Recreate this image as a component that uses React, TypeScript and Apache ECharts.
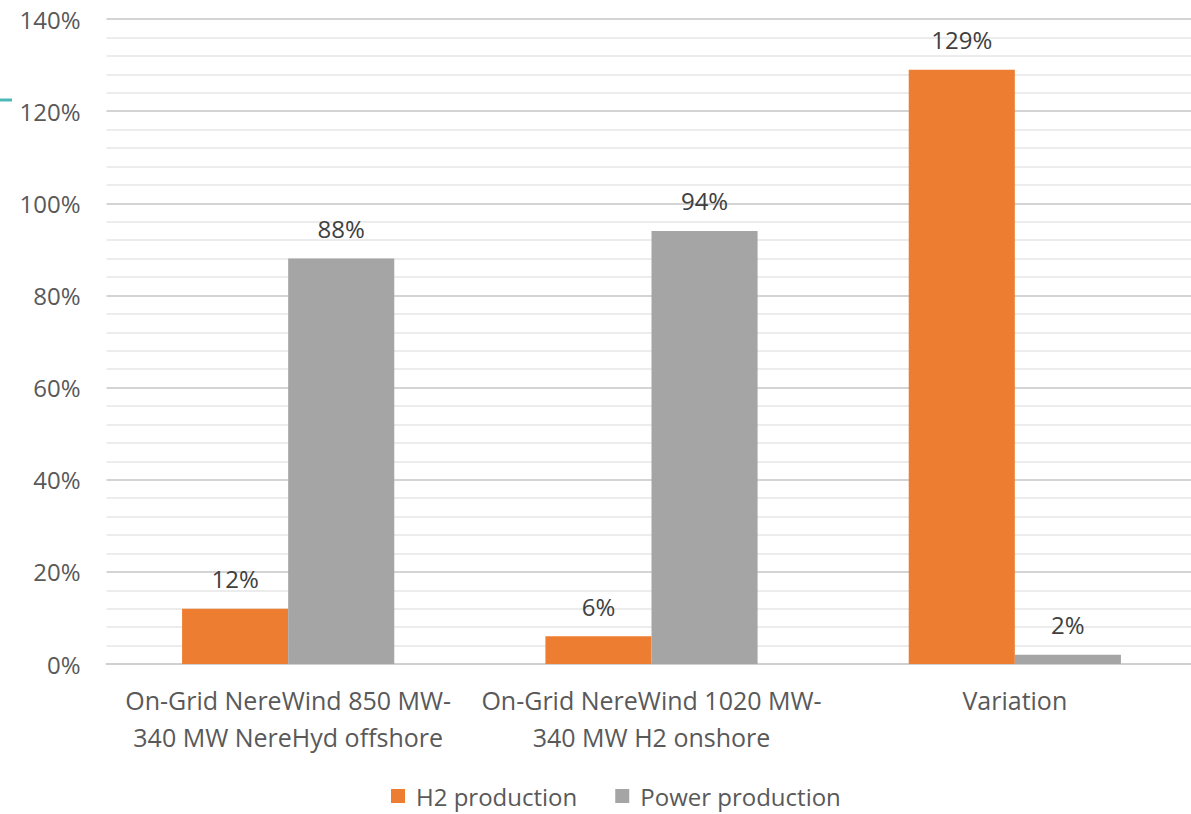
import React, { useEffect, useRef } from "react";
import * as echarts from "echarts";

// Share of output by scenario (percent)
const categories = [
  "On-Grid NereWind 850 MW-\n340 MW NereHyd offshore",
  "On-Grid NereWind 1020 MW-\n340 MW H2 onshore",
  "Variation",
];
const h2Production = [12, 6, 129];
const powerProduction = [88, 94, 2];
const seriesNames = ["H2 production", "Power production"];
const yTicks = { min: 0, max: 140, interval: 20 };

const FONT = "'Open Sans', 'Noto Sans', sans-serif";
const FONT_SIZE = 24;

export default function App() {
  const ref = useRef<HTMLDivElement>(null);

  useEffect(() => {
    if (!ref.current) return;
    const chart = echarts.init(ref.current, undefined, { renderer: "svg" });
    const label = {
      show: true,
      position: "top" as const,
      distance: 18,
      color: "#404040",
      fontSize: FONT_SIZE,
      fontFamily: FONT,
      formatter: (p: any) => `${p.value}%`,
    };
    chart.setOption({
      animation: false,
      backgroundColor: "#ffffff",
      grid: {
        left: 106.5,
        width: 1090,
        top: 19,
        bottom: 150,
        containLabel: false,
        outerBoundsMode: "none",
      },
      legend: {
        bottom: 1,
        left: 386,
        itemWidth: 14,
        itemHeight: 14,
        itemGap: 38,
        icon: "rect",
        textStyle: {
          color: "#595959",
          fontSize: FONT_SIZE,
          fontFamily: FONT,
          padding: [0, 0, 0, 6],
        },
        data: seriesNames,
      },
      xAxis: {
        type: "category",
        data: categories,
        axisLine: { show: true, lineStyle: { color: "#d0d0d0", width: 2 } },
        axisTick: { show: false },
        axisLabel: {
          color: "#595959",
          fontSize: 25,
          fontFamily: FONT,
          lineHeight: 37,
          margin: 17,
          interval: 0,
        },
      },
      yAxis: {
        type: "value",
        min: yTicks.min,
        max: yTicks.max,
        interval: yTicks.interval,
        axisLine: { show: false },
        axisTick: { show: false },
        axisLabel: {
          color: "#595959",
          fontSize: FONT_SIZE,
          fontFamily: FONT,
          margin: 26,
          formatter: (v: number) => `${v}%`,
        },
        splitLine: { show: true, lineStyle: { color: "#d4d4d4", width: 2 } },
        minorTick: { show: false, splitNumber: 5 },
        minorSplitLine: { show: true, lineStyle: { color: "#e6e6e6", width: 1.5 } },
      },
      series: [
        {
          name: seriesNames[0],
          type: "bar",
          data: h2Production,
          itemStyle: { color: "#ed7d31" },
          barGap: "0%",
          barCategoryGap: "41.6%",
          label,
        },
        {
          name: seriesNames[1],
          type: "bar",
          data: powerProduction,
          itemStyle: { color: "#a5a5a5" },
          label,
        },
      ],
      graphic: [
        {
          type: "line",
          shape: { x1: 0, y1: 100, x2: 12, y2: 100 },
          style: { stroke: "#4cb8b8", lineWidth: 3 },
        },
      ],
    });
    return () => chart.dispose();
  }, []);

  return (
    <div
      ref={ref}
      style={{ position: "fixed", left: 0, top: 0, width: 1191, height: 814, overflow: "hidden" }}
    />
  );
}
